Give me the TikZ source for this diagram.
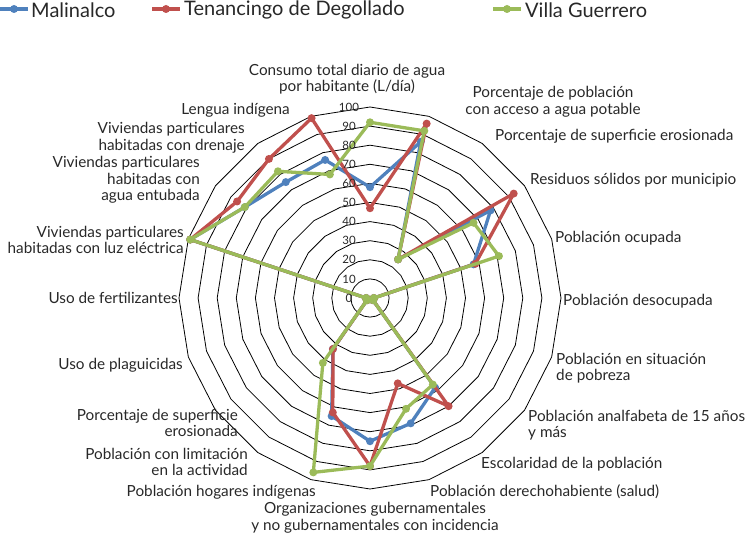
\documentclass[tikz,border=0pt]{standalone}
\usepackage{fontspec}
\setmainfont{Lato}
\definecolor{cblue}{RGB}{79,129,189}
\definecolor{cred}{RGB}{192,80,77}
\definecolor{cgreen}{RGB}{155,187,89}
\definecolor{ctext}{RGB}{40,40,40}
\begin{document}
\begin{tikzpicture}[x=1pt,y=-1pt,
  lab/.style={text=ctext,font=\fontsize{15.3}{16.5}\selectfont,inner sep=0pt},
  tick/.style={text=ctext,font=\fontsize{11.5}{12}\selectfont,inner sep=0pt},
  leg/.style={text=ctext,font=\fontsize{20}{22}\selectfont,inner sep=0pt,anchor=west},
  ser/.style={line width=3.3pt,line join=round}]
\useasboundingbox (0,0) rectangle (750,537);
\coordinate (c) at (370,298);
% grid
\foreach \k in {1,...,10}{
  \draw[black,line width=0.8pt] ({370},{298-19.1*\k}) \foreach \i in {1,...,19}{ -- ({370+19.1*\k*sin(18*\i)},{298-19.1*\k*cos(18*\i)})} -- cycle;
}
% series
\newcommand{\radar}[3]{%
  \foreach \v [count=\i from 0] in {#3}
    \coordinate (#1\i) at ({370+1.91*\v*sin(18*\i)},{298-1.91*\v*cos(18*\i)});
  \draw[ser,#2] (#10) \foreach \i in {1,...,19}{ -- (#1\i)} -- cycle;
  \foreach \i in {0,...,19} \fill[#2] (#1\i) circle (4);
}
\radar{b}{cblue}{58,86,25,78,57,2,2,2,58,69,75,65,33,2,2,2,99,81,75,76}
\radar{r}{cred}{47,96,25,93,58,2,2,2,70,47,88,63,33,2,2,2,99,86,90,99}
\radar{g}{cgreen}{92,92,25,67,71,2,2,2,56,61,88,96,42,2,2,2,99,81,82,68}
% ticks
\foreach \k in {0,...,10}{
  \pgfmathtruncatemacro{\t}{10*\k}
  \node[tick] (t\k) at (349,{298-19.1*\k}) {\t};
}
% labels
\node[lab,align=center] (l0) at (347,79) {Consumo total diario de agua\\por habitante (L/día)};
\node[lab,align=center] (l1) at (553,102) {Porcentaje de población\\con acceso a agua potable};
\node[lab,anchor=west] (l2) at (495,136) {Porcentaje de superficie erosionada};
\node[lab,anchor=west] (l3) at (530,180) {Residuos sólidos por municipio};
\node[lab,anchor=west] (l4) at (555,238) {Población ocupada};
\node[lab,anchor=west] (l5) at (563,301) {Población desocupada};
\node[lab,anchor=west,align=left] (l6) at (556,368) {Población en situación\\de pobreza};
\node[lab,anchor=west,align=left] (l7) at (528,425) {Población analfabeta de 15 años\\y más};
\node[lab,anchor=west] (l8) at (481,464) {Escolaridad de la población};
\node[lab,anchor=west] (l9) at (430,492) {Población derechohabiente (salud)};
\node[lab,align=center] (l10) at (375,518) {Organizaciones gubernamentales\\y no gubernamentales con incidencia};
\node[lab,anchor=east] (l11) at (316,492) {Población hogares indígenas};
\node[lab,anchor=east,align=right] (l12) at (248,462) {Población con limitación\\en la actividad};
\node[lab,anchor=east,align=right] (l13) at (238,423) {Porcentaje de superficie\\erosionada};
\node[lab,anchor=east] (l14) at (183,365) {Uso de plaguicidas};
\node[lab,anchor=east] (l15) at (178,298) {Uso de fertilizantes};
\node[lab,anchor=east,align=right] (l16) at (184,240) {Viviendas particulares\\habitadas con luz eléctrica};
\node[lab,anchor=east,align=right] (l17) at (200,180) {Viviendas particulares\\habitadas con\\agua entubada};
\node[lab,anchor=east,align=right] (l18) at (245,138) {Viviendas particulares\\habitadas con drenaje};
\node[lab,anchor=east] (l19) at (290,110) {Lengua indígena};
% legend
\coordinate (la) at (0,9); \coordinate (lb) at (28,9);
\draw[cblue,line width=3.3pt] (la) -- (lb); \fill[cblue] (14,9) circle (4);
\node[leg] (n1) at (31,10) {Malinalco};
\coordinate (lc) at (152,9); \coordinate (ld) at (180,9);
\draw[cred,line width=3.3pt] (lc) -- (ld); \fill[cred] (166,9) circle (4);
\node[leg] (n2) at (184,10) {Tenancingo de Degollado};
\coordinate (le) at (493,9); \coordinate (lf) at (521,9);
\draw[cgreen,line width=3.3pt] (le) -- (lf); \fill[cgreen] (507,9) circle (4);
\node[leg] (n3) at (525,10) {Villa Guerrero};
\end{tikzpicture}
\end{document}
